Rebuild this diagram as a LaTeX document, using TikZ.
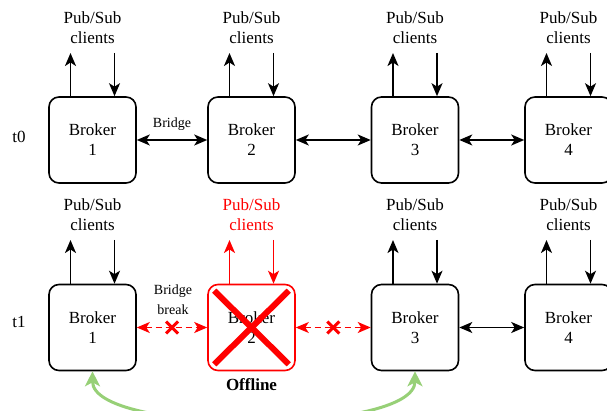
\documentclass[tikz,border=0pt]{standalone}
\usepackage{fontspec}
\setmainfont{Liberation Serif}
\usetikzlibrary{arrows.meta}
\definecolor{offred}{HTML}{FF0000}
\definecolor{linkgreen}{HTML}{97D077}
\tikzset{
  tip/.style={Stealth[length=13pt,width=11pt,inset=3.5pt]},
  broker/.style={draw, line width=1.6pt, rounded corners=10pt, minimum width=87pt, minimum height=86pt, inner sep=0pt, align=center, font=\fontsize{17}{20}\selectfont},
  clients/.style={align=center, inner sep=0pt, font=\fontsize{17}{20}\selectfont},
  lbl/.style={inner sep=0pt, font=\fontsize{17}{20}\selectfont},
  small/.style={inner sep=0pt, align=center, font=\fontsize{14}{20}\selectfont},
  arr/.style={line width=1.8pt, -{Stealth[length=13pt,width=11pt,inset=3.5pt]}},
  biarr/.style={line width=1.8pt, {Stealth[length=13pt,width=11pt,inset=3.5pt]}-{Stealth[length=13pt,width=11pt,inset=3.5pt]}},
  brokenarr/.style={line width=1.8pt, offred, dash pattern=on 6pt off 4pt, {Stealth[length=13pt,width=11pt,inset=3.5pt]}-{Stealth[length=13pt,width=11pt,inset=3.5pt]}},
  cross/.style={offred, line width=3pt},
  bigcross/.style={offred, line width=6pt},
  greenarr/.style={linkgreen, line width=3pt, {Stealth[length=15pt,width=15pt,inset=4pt]}-{Stealth[length=15pt,width=15pt,inset=4pt]}}
}
\begin{document}
\begin{tikzpicture}[x=1pt,y=-1pt]
\useasboundingbox (0,0) rectangle (607,411);
\clip (0,0) rectangle (607,411);
% row t0
\node[lbl] (t0) at (19,137) {t0};
\foreach \n/\cx in {1/92.5,2/251.5,3/415,4/568.5}{
  \node[broker] (a\n) at (\cx,140) {Broker\\\n};
  \node[clients] (ca\n) at (\cx,27.5) {Pub/Sub\\clients};
  \coordinate (au\n) at (\cx-22,53);
  \coordinate (ad\n) at (\cx+22,53);
  \draw[arr] ([xshift=-22pt]a\n.north) -- (au\n);
  \draw[arr] (ad\n) -- ([xshift=22pt]a\n.north);
}
\draw[biarr] (a1.east) -- (a2.west) node[small, midway, above=9pt] (br) {Bridge};
\draw[biarr] (a2.east) -- (a3.west);
\draw[biarr] (a3.east) -- (a4.west);
% row t1
\node[lbl] (t1) at (19,322) {t1};
\foreach \n/\cx in {1/92.5,3/415,4/568.5}{
  \node[broker] (b\n) at (\cx,327.5) {Broker\\\n};
  \node[clients] (cb\n) at (\cx,214.5) {Pub/Sub\\clients};
  \coordinate (bu\n) at (\cx-22,240);
  \coordinate (bd\n) at (\cx+22,240);
  \draw[arr] ([xshift=-22pt]b\n.north) -- (bu\n);
  \draw[arr] (bd\n) -- ([xshift=22pt]b\n.north);
}
\node[broker, draw=offred] (b2) at (251.5,327.5) {Broker\\2};
\node[clients, text=offred] (cb2) at (251.5,214.5) {Pub/Sub\\clients};
\coordinate (bu2) at (251.5-22,240);
\coordinate (bd2) at (251.5+22,240);
\draw[arr, offred] ([xshift=-22pt]b2.north) -- (bu2);
\draw[arr, offred] (bd2) -- ([xshift=22pt]b2.north);
\draw[bigcross] ([shift={(7pt,-7pt)}]b2.north west) -- ([shift={(-7pt,7pt)}]b2.south east);
\draw[bigcross] ([shift={(-7pt,-7pt)}]b2.north east) -- ([shift={(7pt,7pt)}]b2.south west);
\node[font=\bfseries\fontsize{17}{20}\selectfont, inner sep=0pt] (off) at (251.5,385) {Offline};
\draw[brokenarr] (b1.east) -- (b2.west) coordinate[midway] (m1);
\draw[brokenarr] (b2.east) -- (b3.west) coordinate[midway] (m2);
\node[small] (bb) at (173,300) {Bridge\\break};
\draw[cross] ([shift={(-6pt,-6pt)}]m1) -- ([shift={(6pt,6pt)}]m1);
\draw[cross] ([shift={(6pt,-6pt)}]m1) -- ([shift={(-6pt,6pt)}]m1);
\draw[cross] ([shift={(-6pt,-6pt)}]m2) -- ([shift={(6pt,6pt)}]m2);
\draw[cross] ([shift={(6pt,-6pt)}]m2) -- ([shift={(-6pt,6pt)}]m2);
\draw[biarr] (b3.east) -- (b4.west);
% recovery link
\draw[greenarr] (b1.south) .. controls +(0,64) and +(0,64) .. (b3.south);
\end{tikzpicture}
\end{document}
